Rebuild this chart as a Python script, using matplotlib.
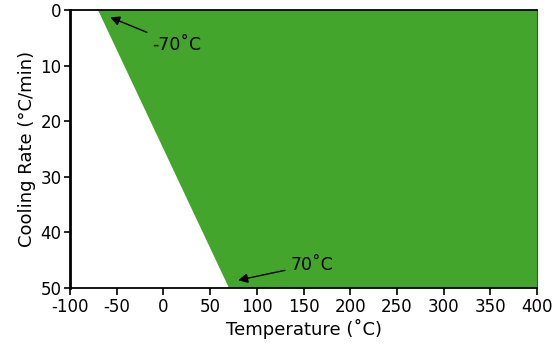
import matplotlib
matplotlib.use("Agg")
import matplotlib.pyplot as plt
from matplotlib.patches import Polygon

# Region boundary: temperature limit at cooling rate 0 and 50
rate_limits = [0, 50]
temp_limits = [-70, 70]
temp_max = 400
x_ticks = [-100, -50, 0, 50, 100, 150, 200, 250, 300, 350, 400]
y_ticks = [0, 10, 20, 30, 40, 50]
ann_labels = ["-70˚C", "70˚C"]

plt.rcParams['font.family'] = ['DejaVu Sans']
plt.rcParams['axes.unicode_minus'] = False
fig = plt.figure(figsize=(5.54, 3.47), dpi=100)
ax = fig.add_axes([0.1264, 0.170, 0.8429, 0.801])

poly = Polygon([(temp_limits[0], rate_limits[0]), (temp_max, rate_limits[0]),
                (temp_max, rate_limits[1]), (temp_limits[1], rate_limits[1])],
               closed=True, facecolor='#43a52b', edgecolor='none')
ax.add_patch(poly)

ax.set_xlim(-100, 400)
ax.set_ylim(50, 0)
ax.set_xticks(x_ticks)
ax.set_yticks(y_ticks)
ax.tick_params(direction='out', length=4, width=1.2, labelsize=12, pad=2)
ax.tick_params(axis='x', length=5)

ax.spines['left'].set_linewidth(2)
ax.spines['bottom'].set_linewidth(1.3)
ax.spines['top'].set_linewidth(1.3)
ax.spines['right'].set_linewidth(0.8)
ax.spines['right'].set_color('#2f5e22')

ax.set_xlabel("Temperature (˚C)", fontsize=13, labelpad=2)
ax.set_ylabel("Cooling Rate (°C/min)", fontsize=13, labelpad=3)

ax.annotate(ann_labels[0], xy=(-57, 1.3), xytext=(-12, 6.2), fontsize=12.5,
            va='center', ha='left',
            arrowprops=dict(arrowstyle='-|>', color='black', lw=1, mutation_scale=14,
                            shrinkA=2, shrinkB=0))
ax.annotate(ann_labels[1], xy=(80, 48.6), xytext=(136, 45.8), fontsize=12.5,
            va='center', ha='left',
            arrowprops=dict(arrowstyle='-|>', color='black', lw=1, mutation_scale=14,
                            shrinkA=2, shrinkB=0))

fig.savefig("out.png", dpi=100)
